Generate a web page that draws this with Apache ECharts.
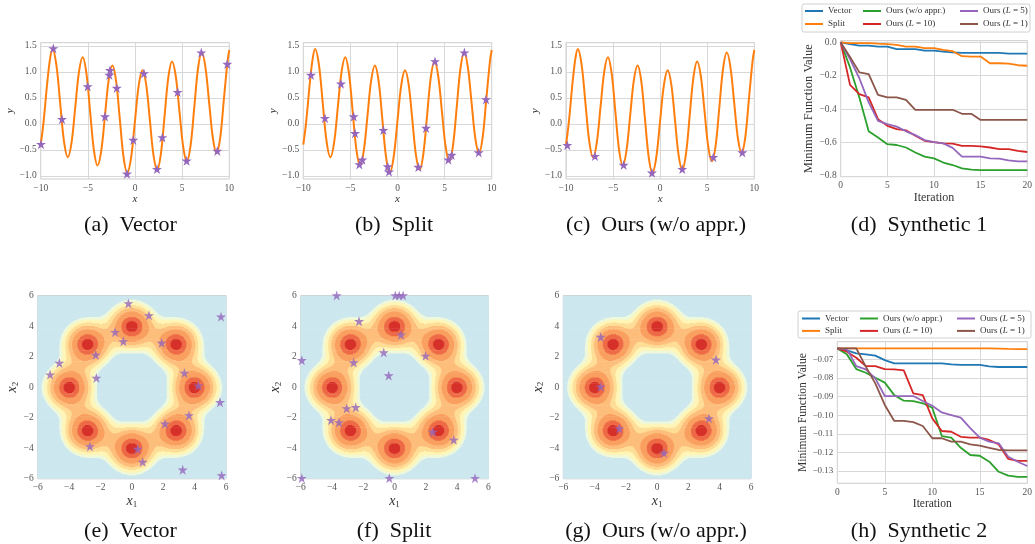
<!DOCTYPE html>
<html><head><meta charset="utf-8">
<script src="https://cdn.jsdelivr.net/npm/echarts@6/dist/echarts.min.js"></script>
<style>html,body{margin:0;padding:0;background:#fff}#c{width:1035px;height:544px}</style>
</head><body><div id="c"></div>
<script>
// ---------------- DATA ----------------
// objective curve (a)-(c)
const curveXs = [-10,-9.7,-9.3,-9.0,-8.75,-8.34,-7.935,-7.53,-7.12,-6.73,-6.335,-5.94,-5.55,-5.155,-4.76,-4.365,-3.97,-3.58,-3.185,-2.79,-2.4,-2.005,-1.61,-1.215,-0.82,-0.415,-0.01,0.395,0.8,1.19,1.575,1.96,2.35,2.745,3.14,3.535,3.93,4.32,4.715,5.11,5.5,5.895,6.29,6.685,7.08,7.47,7.865,8.26,8.65,9.04,9.425,9.81,10];
const curveYs = [-0.40,0.03,0.80,1.26,1.44,1.135,0.40,-0.335,-0.64,-0.36,0.32,1.00,1.28,0.975,0.24,-0.495,-0.80,-0.52,0.16,0.84,1.12,0.82,0.09,-0.64,-0.94,-0.65,0.045,0.74,1.03,0.75,0.075,-0.60,-0.88,-0.575,0.16,0.895,1.20,0.92,0.24,-0.44,-0.72,-0.414,0.325,1.064,1.37,1.087,0.405,-0.277,-0.56,-0.258,0.47,1.198,1.42];
const starsA = [[-9.97,-0.39],[-8.66,1.45],[-7.74,0.09],[-5.02,0.72],[-3.18,0.14],[-2.72,0.94],[-2.65,1.03],[-1.94,0.69],[-0.85,-0.96],[-0.18,-0.31],[0.95,0.97],[2.33,-0.87],[2.9,-0.26],[4.52,0.61],[5.48,-0.71],[7.03,1.37],[8.73,-0.52],[9.79,1.15]];
const starsB = [[-9.19,0.94],[-7.7,0.11],[-6.0,0.77],[-4.65,0.14],[-4.51,-0.18],[-4.05,-0.78],[-3.73,-0.69],[-1.5,-0.12],[-1.04,-0.82],[-0.9,-0.92],[2.21,-0.83],[3.03,-0.08],[3.98,1.2],[5.4,-0.69],[5.75,-0.6],[7.1,1.37],[8.62,-0.55],[9.4,0.47]];
const starsC = [[-9.86,-0.41],[-6.92,-0.62],[-3.88,-0.79],[-0.87,-0.94],[2.35,-0.87],[5.65,-0.64],[8.73,-0.55]];
// contour panels (e)-(g)
const bumpCenters = [[4,0],[2.83,2.83],[0,4],[-2.83,2.83],[-4,0],[-2.83,-2.83],[0,-4],[2.83,-2.83]];
const bumpSigma = 0.9;
const contourLevels = [0.15,0.21,0.30,0.41,0.56,0.78,0.93];
const contourColors = ['#cde7ef','#eef8da','#fef5b6','#fedd97','#fdbe7c','#f9a060','#ee6a46','#d6302a'];
const starsE = [[-0.22,5.48],[1.09,4.7],[5.68,4.61],[-1.07,3.6],[-0.54,3.0],[1.9,2.9],[-2.3,2.11],[-4.62,1.58],[-5.21,0.82],[3.35,0.93],[-2.26,0.6],[4.24,0.1],[5.62,-0.99],[3.64,-1.85],[2.11,-2.4],[-2.67,-3.88],[0.37,-4.05],[0.69,-4.9],[3.24,-5.41],[5.72,-5.78]];
const starsF = [[-3.7,6.0],[0.05,6.0],[0.3,6.0],[0.55,6.0],[-2.27,4.31],[0.42,3.43],[-5.93,1.76],[-2.61,1.61],[-0.69,2.27],[1.99,2.05],[-0.37,0.76],[-3.06,-1.39],[-2.48,-1.32],[-4.06,-2.16],[-3.55,-2.31],[2.45,-2.93],[3.79,-3.45],[-5.93,-5.96],[-0.33,-5.96],[5.15,-5.96]];
const starsG = [[-3.61,3.28],[3.76,1.79],[-3.61,0.03],[3.31,-2.05],[-2.42,-2.71],[0.44,-4.31]];
// convergence panels (d), (h)
const iters = [0,1,2,3,4,5,6,7,8,9,10,11,12,13,14,15,16,17,18,19,20];
const d1Vector = [0,-0.01,-0.02,-0.02,-0.025,-0.025,-0.04,-0.04,-0.04,-0.05,-0.05,-0.055,-0.06,-0.063,-0.063,-0.063,-0.063,-0.063,-0.067,-0.067,-0.067];
const d1Split = [0,-0.005,-0.005,-0.005,-0.008,-0.01,-0.015,-0.025,-0.025,-0.035,-0.035,-0.045,-0.053,-0.083,-0.085,-0.085,-0.125,-0.125,-0.127,-0.137,-0.14];
const d1Ours = [0,-0.15,-0.33,-0.533,-0.57,-0.61,-0.615,-0.63,-0.66,-0.685,-0.695,-0.72,-0.735,-0.755,-0.762,-0.765,-0.765,-0.765,-0.765,-0.765,-0.765];
const d1L10 = [0,-0.255,-0.31,-0.33,-0.46,-0.5,-0.52,-0.527,-0.56,-0.59,-0.598,-0.605,-0.607,-0.62,-0.62,-0.623,-0.63,-0.64,-0.64,-0.65,-0.657];
const d1L5 = [0,-0.1,-0.215,-0.36,-0.47,-0.49,-0.505,-0.533,-0.556,-0.586,-0.598,-0.605,-0.632,-0.685,-0.685,-0.685,-0.695,-0.697,-0.707,-0.713,-0.713];
const d1L1 = [0,-0.087,-0.18,-0.19,-0.315,-0.33,-0.33,-0.345,-0.404,-0.404,-0.404,-0.404,-0.404,-0.428,-0.428,-0.465,-0.465,-0.465,-0.465,-0.465,-0.465];
const d2Vector = [-0.0641,-0.0652,-0.0668,-0.0673,-0.068,-0.0704,-0.0721,-0.0721,-0.0721,-0.0721,-0.0721,-0.0721,-0.0727,-0.073,-0.073,-0.073,-0.0738,-0.0741,-0.0741,-0.0741,-0.0741];
const d2Split = [-0.0641,-0.0641,-0.0641,-0.0641,-0.0641,-0.0641,-0.0641,-0.0641,-0.0641,-0.0641,-0.0641,-0.0641,-0.0641,-0.0641,-0.0641,-0.0641,-0.0641,-0.0642,-0.0644,-0.0645,-0.0645];
const d2Ours = [-0.0641,-0.0673,-0.0752,-0.0772,-0.0799,-0.0825,-0.0892,-0.0922,-0.0924,-0.0936,-0.096,-0.1112,-0.1121,-0.1175,-0.1214,-0.1218,-0.125,-0.1304,-0.1325,-0.1332,-0.1332];
const d2L10 = [-0.0641,-0.0659,-0.0691,-0.0736,-0.0736,-0.0752,-0.0754,-0.0759,-0.0883,-0.0892,-0.1017,-0.1085,-0.1089,-0.1116,-0.1121,-0.1121,-0.1133,-0.1157,-0.1235,-0.1246,-0.1246];
const d2L5 = [-0.0641,-0.0645,-0.0736,-0.0754,-0.0802,-0.0897,-0.0897,-0.0897,-0.0897,-0.0924,-0.0949,-0.0985,-0.0999,-0.1013,-0.107,-0.1121,-0.1142,-0.1151,-0.1223,-0.125,-0.1273];
const d2L1 = [-0.0641,-0.0641,-0.0641,-0.0739,-0.0829,-0.0945,-0.1031,-0.1031,-0.1037,-0.1058,-0.1124,-0.1124,-0.1142,-0.1142,-0.1157,-0.1164,-0.1175,-0.1187,-0.1189,-0.1189,-0.1189];
const seriesNames = ['Vector','Split','Ours (w/o appr.)','Ours (L = 10)','Ours (L = 5)','Ours (L = 1)'];
const seriesColors = ['#1f77b4','#ff7f0e','#2ca02c','#d62728','#9467bd','#8c564b'];
const ticksCurveY = [-1,-0.5,0,0.5,1,1.5];
const ticksD1Y = [-0.8,-0.6,-0.4,-0.2,0];
const ticksD2Y = [-0.13,-0.12,-0.11,-0.10,-0.09,-0.08,-0.07];
const captionsTop = ['(a)  Vector','(b)  Split','(c)  Ours (w/o appr.)','(d)  Synthetic 1'];
const captionsBottom = ['(e)  Vector','(f)  Split','(g)  Ours (w/o appr.)','(h)  Synthetic 2'];

// ---------------- HELPERS ----------------
const SERIF = '"Liberation Serif", "Times New Roman", serif';
const GRID_C = '#d8d8d8', FRAME_C = '#cccccc', TICK_C = '#555555', NAME_C = '#333333';
const STAR = 'path://M50,2 L61.2,36.2 L97.6,36.2 L68.2,57.6 L79.4,92 L50,70.6 L20.6,92 L31.8,57.6 L2.4,36.2 L38.8,36.2 Z';
function fmt(d){ return v => { if (Math.abs(v) < 1e-9) return (0).toFixed(d); return (v<0?'\u2212':'') + Math.abs(v).toFixed(d); }; }

function levelAt(x,y){
  let f = 0;
  for (const c of bumpCenters){ const dx=x-c[0], dy=y-c[1]; f += Math.exp(-(dx*dx+dy*dy)/(2*bumpSigma*bumpSigma)); }
  let l = 0; for (const t of contourLevels) if (f >= t) l++;
  return l;
}
function contourRuns(){
  const nx = 400, ny = 200, lo = -6, hi = 6, dx=(hi-lo)/nx, dy=(hi-lo)/ny;
  const runs = [];
  for (let j=0;j<ny;j++){
    const y = lo+(j+0.5)*dy; let start = lo, cur = -1;
    for (let i=0;i<=nx;i++){
      const lev = i<nx ? levelAt(lo+(i+0.5)*dx, y) : -2;
      if (lev !== cur){ if (cur>=0) runs.push([start, lo+i*dx, y-dy/2, y+dy/2, cur]); start = lo+i*dx; cur = lev; }
    }
  }
  return runs;
}
const runs = contourRuns();

const gridPos = [
  {left:40.7, top:42.7, width:188.6, height:136.3},
  {left:303.3, top:42.7, width:188.4, height:136.3},
  {left:566, top:42.7, width:188.3, height:136.3},
  {left:840.7, top:40.7, width:193.3, height:136},
  {left:37.7, top:295.5, width:188.3, height:183.3},
  {left:300.7, top:295.5, width:187.6, height:183.3},
  {left:563.3, top:295.5, width:187.7, height:183.3},
  {left:837.3, top:341.7, width:193.4, height:141.6}
];
const grids = gridPos.map(g => Object.assign({show:true, borderColor:FRAME_C, borderWidth:1, backgroundColor:'#fff'}, g));

const tickLabel = (extra) => Object.assign({fontFamily:SERIF, fontSize:9.5, color:TICK_C, margin:4}, extra);
const splitOn = {show:true, lineStyle:{color:GRID_C, width:1}};
const italicName = {fontFamily:SERIF, fontStyle:'italic', fontSize:11, color:NAME_C};
const subName = {fontFamily:SERIF, color:NAME_C, rich:{i:{fontFamily:SERIF, fontStyle:'italic', fontSize:14, color:NAME_C, lineHeight:14}, s:{fontFamily:SERIF, fontSize:9, color:NAME_C, lineHeight:9, verticalAlign:'bottom', padding:[6,0,0,0]}}};

const xAxes = [], yAxes = [];
[0,1,2].forEach(k => {
  xAxes.push({type:'value', gridIndex:k, min:-10, max:10, interval:5, axisLine:{show:false}, axisTick:{show:false}, splitLine:splitOn,
    axisLabel:tickLabel({formatter:fmt(0)}), name:'x', nameLocation:'middle', nameGap:15, nameTextStyle:italicName});
  yAxes.push({type:'value', gridIndex:k, min:-1.06, max:1.56, axisLine:{show:false}, axisTick:{show:false, customValues:ticksCurveY}, splitLine:splitOn,
    axisLabel:tickLabel({formatter:fmt(1), customValues:ticksCurveY}), name:'y', nameLocation:'middle', nameGap:[21,21,22][k], nameTextStyle:italicName});
});
// (d)
xAxes.push({type:'value', gridIndex:3, min:0, max:20, interval:5, axisLine:{show:false}, axisTick:{show:false}, splitLine:splitOn,
  axisLabel:tickLabel({formatter:fmt(0)}), name:'Iteration', nameLocation:'middle', nameGap:14, nameTextStyle:{fontFamily:SERIF, fontSize:12, color:NAME_C}});
yAxes.push({type:'value', gridIndex:3, min:-0.805, max:0.01, axisLine:{show:false}, axisTick:{show:false, customValues:ticksD1Y}, splitLine:splitOn,
  axisLabel:tickLabel({formatter:fmt(1), customValues:ticksD1Y}), name:'Minimum Function Value', nameLocation:'middle', nameGap:19, nameTextStyle:{fontFamily:SERIF, fontSize:12.5, color:NAME_C}});
// (e)-(g)
[4,5,6].forEach(k => {
  xAxes.push({type:'value', gridIndex:k, min:-6, max:6, interval:2, axisLine:{show:false}, axisTick:{show:false}, splitLine:{show:false},
    axisLabel:tickLabel({formatter:fmt(0)}), name:'{i|x}{s|1}', nameLocation:'middle', nameGap:8, nameTextStyle:subName});
  yAxes.push({type:'value', gridIndex:k, min:-6, max:6, interval:2, axisLine:{show:false}, axisTick:{show:false}, splitLine:{show:false},
    axisLabel:tickLabel({formatter:fmt(0)}), name:'{i|x}{s|2}', nameLocation:'middle', nameGap:11, nameTextStyle:subName});
});
// (h)
xAxes.push({type:'value', gridIndex:7, min:0, max:20, interval:5, axisLine:{show:false}, axisTick:{show:false}, splitLine:splitOn,
  axisLabel:tickLabel({formatter:fmt(0)}), name:'Iteration', nameLocation:'middle', nameGap:12, nameTextStyle:{fontFamily:SERIF, fontSize:11.5, color:NAME_C}});
yAxes.push({type:'value', gridIndex:7, min:-0.1366, max:-0.0605, axisLine:{show:false}, axisTick:{show:false, customValues:ticksD2Y}, splitLine:splitOn,
  axisLabel:tickLabel({formatter:fmt(2), customValues:ticksD2Y, fontSize:9}), name:'Minimum Function Value', nameLocation:'middle', nameGap:25, nameTextStyle:{fontFamily:SERIF, fontSize:11.5, color:NAME_C}});

const series = [];
const curvePts = curveXs.map((x,i)=>[x, curveYs[i]]);
[[0,starsA],[1,starsB],[2,starsC]].forEach(([k,st]) => {
  series.push({type:'line', name:'curve'+k, xAxisIndex:k, yAxisIndex:k, data:curvePts, smooth:0.35, symbol:'none',
    lineStyle:{color:'#ff7f0e', width:2}, z:2, silent:true});
  series.push({type:'scatter', name:'stars'+k, xAxisIndex:k, yAxisIndex:k, data:st, symbol:STAR, symbolSize:10,
    itemStyle:{color:'#9467bd', opacity:1}, z:3, clip:true, silent:true});
});
[[4,starsE],[5,starsF],[6,starsG]].forEach(([k,st]) => {
  series.push({type:'custom', name:'contour'+k, xAxisIndex:k, yAxisIndex:k, data:runs, clip:true, progressive:0, silent:true, z:1,
    encode:{x:[0,1], y:[2,3]},
    renderItem:(params, api) => {
      const a = api.coord([api.value(0), api.value(3)]);
      const b = api.coord([api.value(1), api.value(2)]);
      return {type:'rect', shape:{x:a[0], y:a[1]-0.35, width:b[0]-a[0]+0.4, height:b[1]-a[1]+0.7}, style:{fill:contourColors[api.value(4)]}};
    }});
  series.push({type:'scatter', name:'stars'+k, xAxisIndex:k, yAxisIndex:k, data:st, symbol:STAR, symbolSize:10,
    itemStyle:{color:'#9467bd'}, z:3, clip:true, silent:true});
});
const d1 = [d1Vector,d1Split,d1Ours,d1L10,d1L5,d1L1];
const d2 = [d2Vector,d2Split,d2Ours,d2L10,d2L5,d2L1];
[[3,d1],[7,d2]].forEach(([k,sets]) => {
  sets.forEach((arr,i) => {
    series.push({type:'line', name:seriesNames[i], xAxisIndex:k, yAxisIndex:k, data:iters.map((t,j)=>[t,arr[j]]), symbol:'none',
      lineStyle:{color:seriesColors[i], width:1.8}, itemStyle:{color:seriesColors[i]}, z:2, silent:true});
  });
});

const legendFmt = name => name.replace(/L = (\d+)/, '{it|L} = $1');
const legendBase = {orient:'vertical', icon:'rect', itemWidth:18, itemHeight:2, padding:0, selectedMode:false, z:5,
  formatter:legendFmt, textStyle:{fontFamily:SERIF, fontSize:9, color:NAME_C, lineHeight:10, rich:{it:{fontFamily:SERIF, fontStyle:'italic', fontSize:9, color:NAME_C, lineHeight:10}}}};
const legendCols = [['Vector','Split'],['Ours (w/o appr.)','Ours (L = 10)'],['Ours (L = 5)','Ours (L = 1)']];
const legends = [];
[[[805,863,960],6,3],[[802,860,957],313.5,2.4]].forEach(([xs,top,gap]) => {
  legendCols.forEach((names,c) => legends.push(Object.assign({}, legendBase, {data:names, left:xs[c], top:top, itemGap:gap})));
});

const capX = [130.5,394,656,919];
const graphics = [
  {type:'rect', z:1, shape:{x:802, y:4, width:228, height:28, r:2}, style:{fill:'#fff', stroke:'#d0d0d0', lineWidth:1}},
  {type:'rect', z:1, shape:{x:798, y:311, width:233, height:27, r:2}, style:{fill:'#fff', stroke:'#d0d0d0', lineWidth:1}}
];
captionsTop.forEach((t,i)=>graphics.push({type:'text', x:capX[i], y:225, style:{text:t, align:'center', verticalAlign:'middle', fontFamily:SERIF, fontSize:22, fill:'#111'}}));
captionsBottom.forEach((t,i)=>graphics.push({type:'text', x:capX[i], y:531, style:{text:t, align:'center', verticalAlign:'middle', fontFamily:SERIF, fontSize:22, fill:'#111'}}));

const chart = echarts.init(document.getElementById('c'), null, {renderer:'canvas'});
chart.setOption({animation:false, backgroundColor:'#fff', grid:grids, xAxis:xAxes, yAxis:yAxes, series:series, legend:legends, graphic:graphics});
</script></body></html>
